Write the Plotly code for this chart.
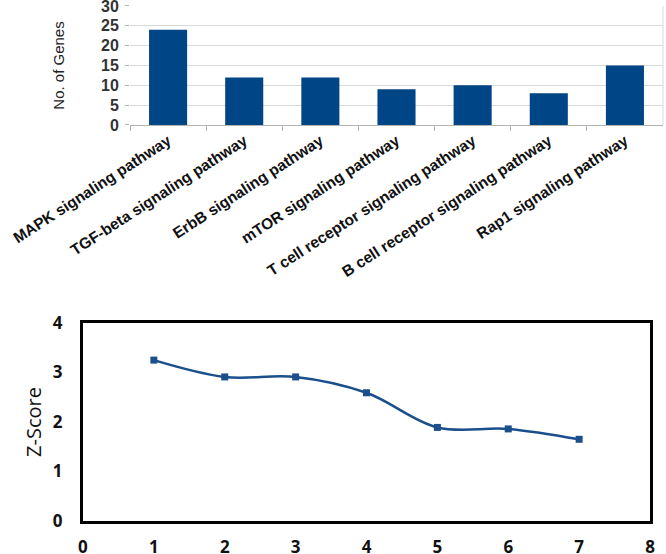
import plotly.graph_objects as go

pathways = ["MAPK signaling pathway", "TGF-beta signaling pathway", "ErbB signaling pathway",
            "mTOR signaling pathway", "T cell receptor signaling pathway",
            "B cell receptor signaling pathway", "Rap1 signaling pathway"]
gene_counts = [24, 12, 12, 9, 10, 8, 15]

z_x = [1, 2, 3, 4, 5, 6, 7]
z_scores = [3.25, 2.91, 2.91, 2.59, 1.89, 1.86, 1.65]

bar_color = "#004586"
line_color = "#1a4f8b"

fig = go.Figure()
fig.add_trace(go.Bar(x=pathways, y=gene_counts, marker=dict(color=bar_color, line=dict(width=0)),
                     xaxis="x", yaxis="y", showlegend=False))
fig.add_trace(go.Scatter(x=z_x, y=z_scores, mode="lines+markers",
                         line=dict(color=line_color, width=2.5, shape="spline", smoothing=1.0),
                         marker=dict(symbol="square", size=7, color=line_color),
                         xaxis="x2", yaxis="y2", showlegend=False))

fig.update_layout(
    width=666, height=554,
    margin=dict(l=0, r=0, t=0, b=0),
    paper_bgcolor="white", plot_bgcolor="white",
    bargap=0.5,
    xaxis=dict(domain=[0.1952, 0.9955], anchor="y", type="category",
               tickangle=-33,
               tickfont=dict(family="Liberation Sans", size=15.5, color="#111111", weight="bold"),
               showline=True, linecolor="#b3b3b3", linewidth=1,
               ticks="outside", tickson="boundaries", ticklen=5, tickcolor="#b3b3b3",
               showgrid=False, automargin=False, ticklabeloverflow="allow"),
    yaxis=dict(domain=[0.7744, 0.9892], anchor="x", range=[0, 30], dtick=5,
               tickfont=dict(family="Liberation Sans", size=16, color="#333333", weight="bold"),
               showgrid=True, gridcolor="#d9d9d9", gridwidth=1,
               ticks="outside", ticklen=4, tickcolor="#b3b3b3",
               ticklabelstandoff=3, zeroline=False, ticklabeloverflow="allow",
               title=dict(text="No. of Genes", font=dict(family="Liberation Sans", size=15, color="#222222"),
                          standoff=32),
               automargin=False),
    xaxis2=dict(domain=[0.1246, 0.976], anchor="y2", range=[0, 8], dtick=1,
                tickfont=dict(family="Open Sans", size=17, color="#111111", weight="bold"),
                showline=True, linecolor="black", linewidth=3, mirror=True,
                showgrid=False, zeroline=False, ticks="", ticklabelstandoff=9,
                ticklabeloverflow="allow", automargin=False),
    yaxis2=dict(domain=[0.0596, 0.417], anchor="x2", range=[0, 4], dtick=1,
                tickfont=dict(family="Open Sans", size=17, color="#111111", weight="bold"),
                showline=True, linecolor="black", linewidth=3, mirror=True,
                showgrid=False, zeroline=False, ticks="", ticklabelstandoff=14,
                ticklabeloverflow="allow",
                title=dict(text="Z-Score", font=dict(family="Open Sans", size=20, color="#111111"),
                           standoff=6),
                automargin=False),
    shapes=[dict(type="line", xref="x domain", yref="y domain", x0=1, x1=1, y0=0, y1=1,
                 line=dict(color="#d9d9d9", width=1))],
)

fig.write_html("out.html", config={"displayModeBar": False},
               post_script="document.body.style.margin='0';")
